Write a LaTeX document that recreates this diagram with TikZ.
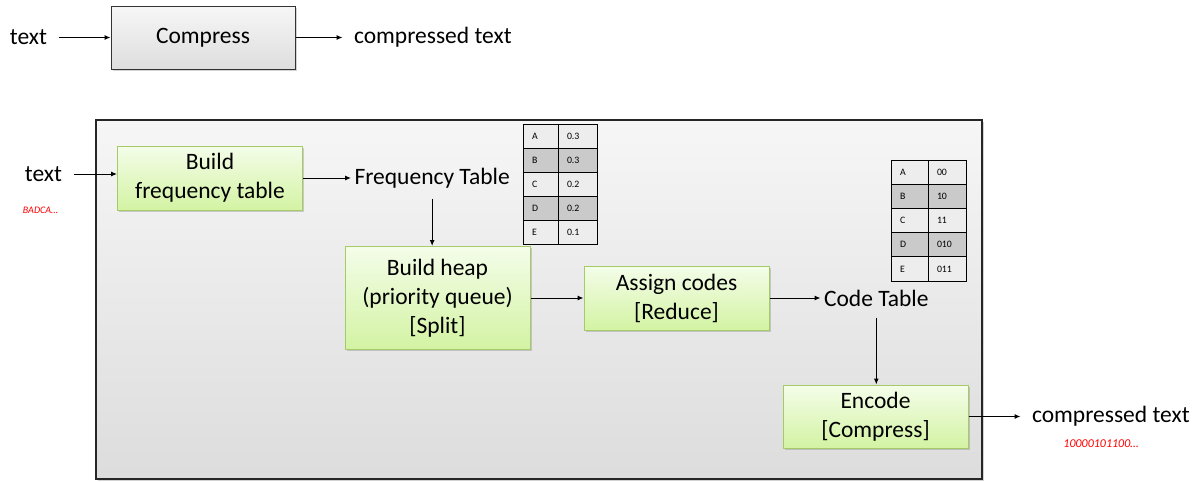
\documentclass[tikz,border=0pt]{standalone}
\usepackage{fontspec}
\setmainfont{Carlito}
\usetikzlibrary{arrows.meta,positioning,shadows,calc}
\definecolor{gtop}{HTML}{F4FDE9}
\definecolor{gbot}{HTML}{D3F3A3}
\definecolor{gline}{HTML}{A5CB69}
\definecolor{ltcell}{HTML}{EDEDED}
\definecolor{dkcell}{HTML}{CACACA}
\newcommand{\bigtxt}{\fontsize{23.5}{29}\selectfont}

\begin{document}
\begin{tikzpicture}[x=1pt,y=-1pt,
  font=\bigtxt, >={Latex[length=6pt,width=5pt]}, line width=1pt,
  shd/.style={drop shadow={shadow xshift=1.5pt,shadow yshift=-1.5pt,opacity=.35}},
  panel/.style={draw=black!85,line width=1.2pt,top color=gray!7,bottom color=gray!27,minimum width=886pt,minimum height=359pt,shd},
  cb/.style={draw=black!80,top color=gray!7,bottom color=gray!26,minimum width=184pt,minimum height=63pt,shd},
  gb/.style={draw=gline,top color=gtop,bottom color=gbot,minimum width=185pt,align=center,inner sep=2pt,shd},
  lb/.style={inner xsep=11pt,inner ysep=2pt},
  cell/.style={draw,line width=.8pt,minimum height=24pt,inner xsep=9pt,align=left,font=\fontsize{9.8}{11}\selectfont},
  rd/.style={text=red,font=\fontsize{10}{12}\selectfont\itshape}]
\useasboundingbox (0,0) rectangle (1200,482);
% overview row
\node[cb] (cmp) at (203,37.5) {Compress};
\node[lb,left=52pt of cmp] (t0) {text};
\node[lb,right=47pt of cmp] (o0) {compressed text};
\draw[->] (t0) -- (cmp);
\draw[->] (cmp) -- (o0);
% detailed pipeline
\node[panel] (panel) at (539,299.5) {};
\node[gb,minimum height=64pt] (bft) at (210,178) {Build\\frequency table};
\node[lb] (t1) at (43.5,174) {text};
\node[rd] (s1) at (40.5,210) {BADCA…};
\draw[->] (t1) -- (t1 -| bft.west);
\node[lb,inner xsep=3pt,right=48pt of bft] (freq) {Frequency Table};
\draw[->] (bft) -- (freq);
\foreach \k/\v/\c [count=\i] in {A/0.3/ltcell,B/0.3/dkcell,C/0.2/ltcell,D/0.2/dkcell,E/0.1/ltcell} {
  \node[cell,fill=\c,text width=17pt] (fa\i) at (540.5,{112+24*\i}) {\k};
  \node[cell,fill=\c,text width=21pt] (fb\i) at (577.5,{112+24*\i}) {\v};
}
\node[gb,minimum height=103pt] (heap) at (437.5,298) {Build heap\\(priority queue)\\{[Split]}};
\draw[->,shorten <=8pt] (freq) -- (freq |- heap.north);
\node[gb,minimum height=64pt] (asg) at (676.5,298) {Assign codes\\{[Reduce]}};
\draw[->] (heap) -- (asg);
\node[lb,inner xsep=3pt,right=51pt of asg] (code) {Code Table};
\draw[->] (asg) -- (code);
\foreach \k/\v/\c [count=\i] in {A/00/ltcell,B/10/dkcell,C/11/ltcell,D/010/dkcell,E/011/ltcell} {
  \node[cell,fill=\c,text width=19pt,minimum height=24.2pt] (ca\i) at (909.5,{147.9+24.2*\i}) {\k};
  \node[cell,fill=\c,text width=20pt,minimum height=24.2pt] (cv\i) at (947,{147.9+24.2*\i}) {\v};
}
\node[gb,minimum height=63pt] (enc) at (875.5,416.5) {Encode\\{[Compress]}};
\draw[->,shorten <=9pt] (code) -- (code |- enc.north);
\node[lb,right=52pt of enc] (o1) {compressed text};
\draw[->] (enc) -- (o1);
\node[rd,font=\fontsize{12}{14}\selectfont\itshape] (s2) at (1101,444) {10000101100…};
\end{tikzpicture}
\end{document}
